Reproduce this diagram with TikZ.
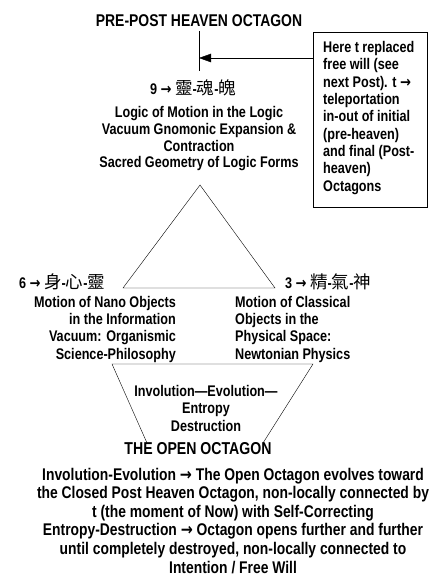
\documentclass[tikz,border=0pt]{standalone}
\usepackage{fontspec}
\setmainfont{Liberation Sans}[FakeStretch=0.82]
\newfontfamily\cjk{Noto Sans CJK TC}
\newfontfamily\arrowfont{DejaVu Sans}[FakeStretch=0.85]
\newcommand{\tto}{{\arrowfont\bfseries →}}
\usetikzlibrary{arrows.meta}

\tikzset{
	lbl/.style={font=\bfseries\fontsize{15.4}{17.3}\selectfont, inner sep=0pt}
}
\newcommand{\hanzi}[1]{{\cjk\mdseries\fontsize{17.5}{17.5}\selectfont #1}}

\begin{document}
\begin{tikzpicture}[x=1pt, y=-1pt]
	\useasboundingbox (0,0) rectangle (436,585);
	\node[lbl, font=\bfseries\fontsize{17}{18}\selectfont, anchor=base] (title) at (199,26.5) {PRE-POST HEAVEN OCTAGON};
	\coordinate (stemtop) at (199,31);
	\coordinate (stemend) at (199,71);
	\coordinate (hit) at (199,58);
	\draw (stemtop) -- (stemend);
	\node[draw, minimum width=114pt, minimum height=175pt, anchor=north west, inner sep=0pt] (note) at (313,32) {};
	\node[lbl, align=left, anchor=base west] (notetext) at (323,191) {Here t replaced\\free will (see\\next Post). t \tto\\teleportation\\in-out of initial\\(pre-heaven)\\and final (Post-\\heaven)\\Octagons};
	\draw[-{Triangle[length=12pt, width=8.5pt]}] (note.west |- hit) -- (hit);
	\node[lbl, anchor=base] (nine) at (193,95) {9 \tto{} \hanzi{靈}-\hanzi{魂}-\hanzi{魄}};
	\node[lbl, align=center, anchor=base, font=\bfseries\fontsize{15.4}{16.7}\selectfont] (logic) at (199,168) {Logic of Motion in the Logic\\Vacuum Gnomonic Expansion \&\\Contraction\\Sacred Geometry of Logic Forms};
	\coordinate (apex) at (200,185);
	\coordinate (left) at (123,288);
	\coordinate (right) at (275,288);
	\draw (apex) -- (left) -- (right) -- cycle;
	\node[lbl, anchor=base west] (six) at (19,288) {6 \tto{} \hanzi{身}-\hanzi{心}-\hanzi{靈}};
	\node[lbl, align=right, anchor=base east] (nano) at (176,359) {Motion of Nano Objects\\in the Information\\Vacuum: Organismic\\Science-Philosophy};
	\node[lbl, anchor=base west] (three) at (285,288) {3 \tto{} \hanzi{精}-\hanzi{氣}-\hanzi{神}};
	\node[lbl, align=left, anchor=base west] (classic) at (235,359) {Motion of Classical\\Objects in the\\Physical Space:\\Newtonian Physics};
	\draw (147,443) -- (112,364) -- (313,364) -- (263,443);
	\node[lbl, align=center, anchor=base, font=\bfseries\fontsize{15.4}{17.5}\selectfont] (cycle) at (206,431) {Involution—Evolution—\\Entropy\\Destruction};
	\node[lbl, font=\bfseries\fontsize{17.2}{18}\selectfont, anchor=base] (open) at (198,454) {THE OPEN OCTAGON};
	\node[lbl, align=center, font=\bfseries\fontsize{16.9}{18.6}\selectfont, anchor=base] (summary) at (233,573) {Involution-Evolution \tto{} The Open Octagon evolves toward\\the Closed Post Heaven Octagon, non-locally connected by\\t (the moment of Now) with Self-Correcting\\Entropy-Destruction \tto{} Octagon opens further and further\\until completely destroyed, non-locally connected to\\Intention / Free Will};
\end{tikzpicture}
\end{document}
